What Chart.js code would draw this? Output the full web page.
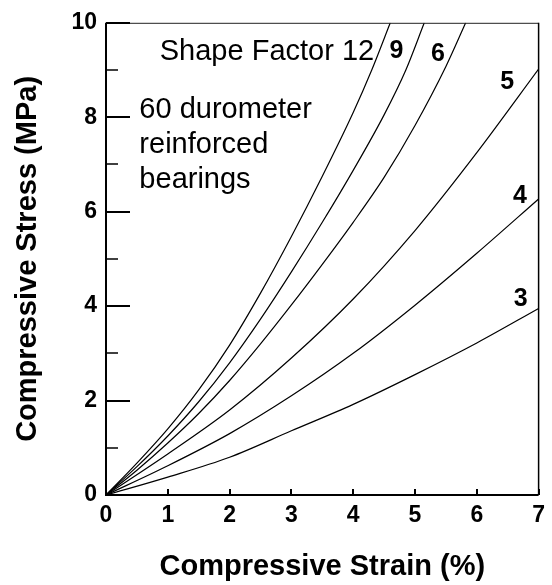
<!DOCTYPE html>
<html><head><meta charset="utf-8">
<script src="https://cdn.jsdelivr.net/npm/chart.js@4.4.0/dist/chart.umd.min.js"></script>
<style>html,body{margin:0;padding:0;background:#fff}#wrap{width:552px;height:585px}</style>
</head><body><div id="wrap"><canvas id="c" width="552" height="585"></canvas></div>
<script>
// ---- data (strain %, stress MPa) ----
const shapeFactors = ['3', '4', '5', '6', '9', '12'];
const strainSF3  = [0, 1, 2, 3, 4, 5, 6, 7];
const stressSF3  = [0, 0.38, 0.80, 1.36, 1.92, 2.55, 3.22, 3.95];
const strainSF4  = [0, 1, 2, 3, 4, 5, 6, 7];
const stressSF4  = [0, 0.62, 1.30, 2.10, 3.00, 4.02, 5.12, 6.27];
const strainSF5  = [0, 1, 2, 3, 4, 5, 6, 7];
const stressSF5  = [0, 0.87, 1.80, 2.90, 4.15, 5.60, 7.25, 9.02];
const strainSF6  = [0, 0.5, 1, 1.5, 2, 2.5, 3, 3.5, 4, 4.5, 5, 5.5, 5.82];
const stressSF6  = [0, 0.525, 1.10, 1.725, 2.425, 3.20, 4.025, 4.885, 5.775, 6.725, 7.825, 9.075, 10];
const strainSF9  = [0, 0.5, 1, 1.5, 2, 2.5, 3, 3.5, 4, 4.5, 4.85, 5.15];
const stressSF9  = [0, 0.60, 1.25, 1.975, 2.80, 3.725, 4.725, 5.775, 6.875, 8.05, 8.995, 10];
const strainSF12 = [0, 0.5, 1, 1.5, 2, 2.5, 3, 3.5, 4, 4.3, 4.6];
const stressSF12 = [0, 0.675, 1.40, 2.225, 3.175, 4.275, 5.475, 6.75, 8.10, 9.0, 10];
const xTickValues = [0, 1, 2, 3, 4, 5, 6, 7];
const yTickValues = [0, 2, 4, 6, 8, 10];
const yMinorTickValues = [1, 3, 5, 7, 9];
const xTitle = 'Compressive Strain (%)';
const yTitle = 'Compressive Stress (MPa)';
const noteLines = ['60 durometer', 'reinforced', 'bearings'];
const headerText = 'Shape Factor 12';

// ---- annotation placement (data coordinates) ----
const notePlacement = { x: 0.54, y: [8.16, 7.42, 6.68] };
const headerPlacement = { x: 0.87, y: 9.39 };
const curveLabelPlacement = {
  '9': [4.70, 9.39], '6': [5.37, 9.33], '5': [6.49, 8.74],
  '4': [6.70, 6.33], '3': [6.71, 4.15]
};

const pairs = (xs, ys) => xs.map((v, i) => ({ x: v, y: ys[i] }));
const seriesData = {
  '3': pairs(strainSF3, stressSF3), '4': pairs(strainSF4, stressSF4),
  '5': pairs(strainSF5, stressSF5), '6': pairs(strainSF6, stressSF6),
  '9': pairs(strainSF9, stressSF9), '12': pairs(strainSF12, stressSF12)
};

const FONT = '"Liberation Sans", Arial, Helvetica, sans-serif';

const framePlugin = {
  id: 'frame',
  afterDatasetsDraw(chart) {
    const { ctx, chartArea: a, scales: { x, y } } = chart;
    ctx.save();
    ctx.lineWidth = 1;
    ctx.strokeStyle = '#222';
    ctx.beginPath(); ctx.moveTo(a.left, a.top + 0.5); ctx.lineTo(a.right, a.top + 0.5); ctx.stroke();
    ctx.strokeStyle = '#000';
    ctx.lineWidth = 1.5;
    ctx.beginPath(); ctx.moveTo(a.right, a.top); ctx.lineTo(a.right, a.bottom); ctx.stroke();
    ctx.lineWidth = 2;
    ctx.beginPath(); ctx.moveTo(a.left, a.top); ctx.lineTo(a.left, a.bottom); ctx.lineTo(a.right, a.bottom); ctx.stroke();
    ctx.lineWidth = 2;
    yTickValues.forEach(v => {
      const py = Math.round(y.getPixelForValue(v));
      ctx.beginPath(); ctx.moveTo(a.left, py); ctx.lineTo(a.left + 24, py); ctx.stroke();
    });
    ctx.lineWidth = 1.5;
    yMinorTickValues.forEach(v => {
      const py = Math.round(y.getPixelForValue(v));
      ctx.beginPath(); ctx.moveTo(a.left, py); ctx.lineTo(a.left + 12, py); ctx.stroke();
    });
    ctx.lineWidth = 2;
    xTickValues.forEach(v => {
      const px = Math.round(x.getPixelForValue(v));
      ctx.beginPath(); ctx.moveTo(px, a.bottom); ctx.lineTo(px, a.bottom - 6); ctx.stroke();
    });
    ctx.fillStyle = '#000';
    ctx.textBaseline = 'middle';
    ctx.textAlign = 'left';
    ctx.font = '29px ' + FONT;
    ctx.fillText(headerText, x.getPixelForValue(headerPlacement.x), y.getPixelForValue(headerPlacement.y));
    noteLines.forEach((t, i) => {
      ctx.fillText(t, x.getPixelForValue(notePlacement.x), y.getPixelForValue(notePlacement.y[i]));
    });
    ctx.textAlign = 'center';
    ctx.font = 'bold 25px ' + FONT;
    Object.keys(curveLabelPlacement).forEach(k => {
      const p = curveLabelPlacement[k];
      ctx.fillText(k, x.getPixelForValue(p[0]), y.getPixelForValue(p[1]));
    });
    ctx.restore();
  }
};

new Chart(document.getElementById('c'), {
  type: 'scatter',
  data: {
    datasets: shapeFactors.map(sf => ({
      label: 'Shape Factor ' + sf,
      data: seriesData[sf],
      showLine: true,
      borderColor: '#000',
      backgroundColor: '#000',
      borderWidth: 1.2,
      pointRadius: 0,
      cubicInterpolationMode: 'monotone'
    }))
  },
  options: {
    responsive: false,
    devicePixelRatio: 1,
    animation: false,
    layout: { padding: { top: 18, right: 5, left: 0, bottom: 0 } },
    plugins: { legend: { display: false }, tooltip: { enabled: false } },
    scales: {
      x: {
        type: 'linear', min: 0, max: 7,
        afterBuildTicks: s => { s.ticks = xTickValues.map(v => ({ value: v })); },
        afterFit: s => { s.height = 90; },
        grid: { display: false, drawTicks: false },
        border: { display: false },
        ticks: { color: '#000', padding: 7, font: { family: FONT, size: 23, weight: 'bold' } },
        title: { display: true, text: xTitle, color: '#000', padding: { top: 0, bottom: 1 },
                 font: { family: FONT, size: 29, weight: 'bold' } }
      },
      y: {
        type: 'linear', min: 0, max: 10,
        afterBuildTicks: s => { s.ticks = yTickValues.map(v => ({ value: v })); },
        afterFit: s => { s.width = 106; },
        grid: { display: false, drawTicks: false },
        border: { display: false },
        ticks: { color: '#000', padding: 9, font: { family: FONT, size: 23, weight: 'bold' } },
        title: { display: true, text: yTitle, color: '#000', padding: { top: 11, bottom: 0 },
                 font: { family: FONT, size: 29, weight: 'bold' } }
      }
    }
  },
  plugins: [framePlugin]
});
</script>
</body></html>
